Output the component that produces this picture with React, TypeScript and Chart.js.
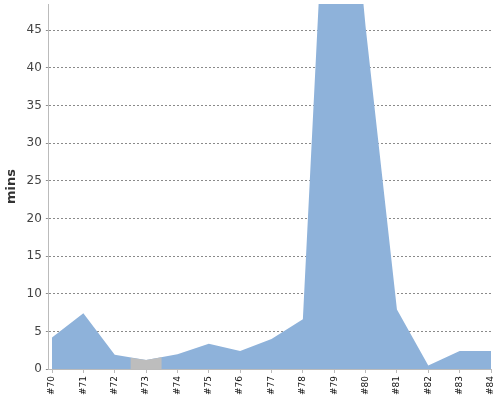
import { useEffect, useRef } from 'react';
import { Chart, registerables } from 'chart.js';

Chart.register(...registerables);

// build numbers (x) and minutes (y)
const runs = [70, 71, 72, 73, 74, 75, 76, 77, 78, 79, 80, 81, 82, 83, 84];
const mins = [4.2, 7.4, 1.9, 1.2, 1.95, 3.35, 2.4, 4.0, 6.6, 90, 45.5, 7.9, 0.45, 2.4, 2.4];

// grey highlighted stretch around #73
const greyRuns = [72.5, 73, 73.5];
const greyMins = [1.5, 1.2, 1.55];

const yTicks = [0, 5, 10, 15, 20, 25, 30, 35, 40, 45];

export default function App() {
  const canvasRef = useRef<HTMLCanvasElement>(null);

  useEffect(() => {
    document.body.style.margin = '0';
    const canvas = canvasRef.current;
    if (!canvas) return;

    const chart = new Chart(canvas, {
      type: 'line',
      data: {
        datasets: [
          {
            label: 'grey',
            data: greyRuns.map((r, i) => ({ x: r, y: greyMins[i] })),
            backgroundColor: '#bdbdbd',
            borderColor: 'rgba(0,0,0,0)',
            borderWidth: 0,
            pointRadius: 0,
            tension: 0,
            fill: 'origin',
            order: 0
          },
          {
            label: 'mins',
            data: runs.map((r, i) => ({ x: r, y: mins[i] })),
            backgroundColor: '#8eb2da',
            borderColor: 'rgba(0,0,0,0)',
            borderWidth: 0,
            pointRadius: 0,
            tension: 0,
            fill: 'origin',
            order: 1
          }
        ]
      },
      options: {
        responsive: false,
        animation: false,
        layout: { padding: { top: 4, right: 9, bottom: 2, left: 0 } },
        plugins: {
          legend: { display: false },
          tooltip: { enabled: false }
        },
        scales: {
          x: {
            type: 'linear',
            min: 69.9,
            max: 84,
            z: 1,
            afterBuildTicks: (s) => {
              s.ticks = runs.map((v) => ({ value: v }));
            },
            afterFit: (s: any) => {
              s.paddingRight = 0;
              s.paddingLeft = 0;
            },
            border: { color: '#bbbbbb', width: 1 },
            grid: {
              drawOnChartArea: false,
              drawTicks: true,
              tickLength: 4,
              color: '#bbbbbb'
            },
            ticks: {
              autoSkip: false,
              minRotation: 90,
              maxRotation: 90,
              padding: 3,
              color: '#111',
              font: { family: 'DejaVu Sans', size: 9 },
              callback: (v) => '#' + v
            }
          },
          y: {
            min: 0,
            max: 48.5,
            z: 1,
            afterBuildTicks: (s) => {
              s.ticks = yTicks.map((v) => ({ value: v }));
            },
            afterFit: (s: any) => {
              s.paddingTop = 0;
            },
            border: { color: '#bbbbbb', width: 1, dash: [2, 2] },
            grid: {
              color: '#8a8a8a',
              tickLength: 3,
              lineWidth: 1,
              tickBorderDash: [2, 2]
            },
            ticks: {
              padding: 4,
              color: '#444',
              font: { family: 'DejaVu Sans', size: 12 }
            },
            title: {
              display: true,
              text: 'mins',
              color: '#333',
              padding: { top: 4, bottom: 3 },
              font: { family: 'DejaVu Sans', size: 13, weight: 'bold' }
            }
          }
        }
      }
    });

    return () => chart.destroy();
  }, []);

  return <canvas ref={canvasRef} width={500} height={400} style={{ display: 'block' }} />;
}
